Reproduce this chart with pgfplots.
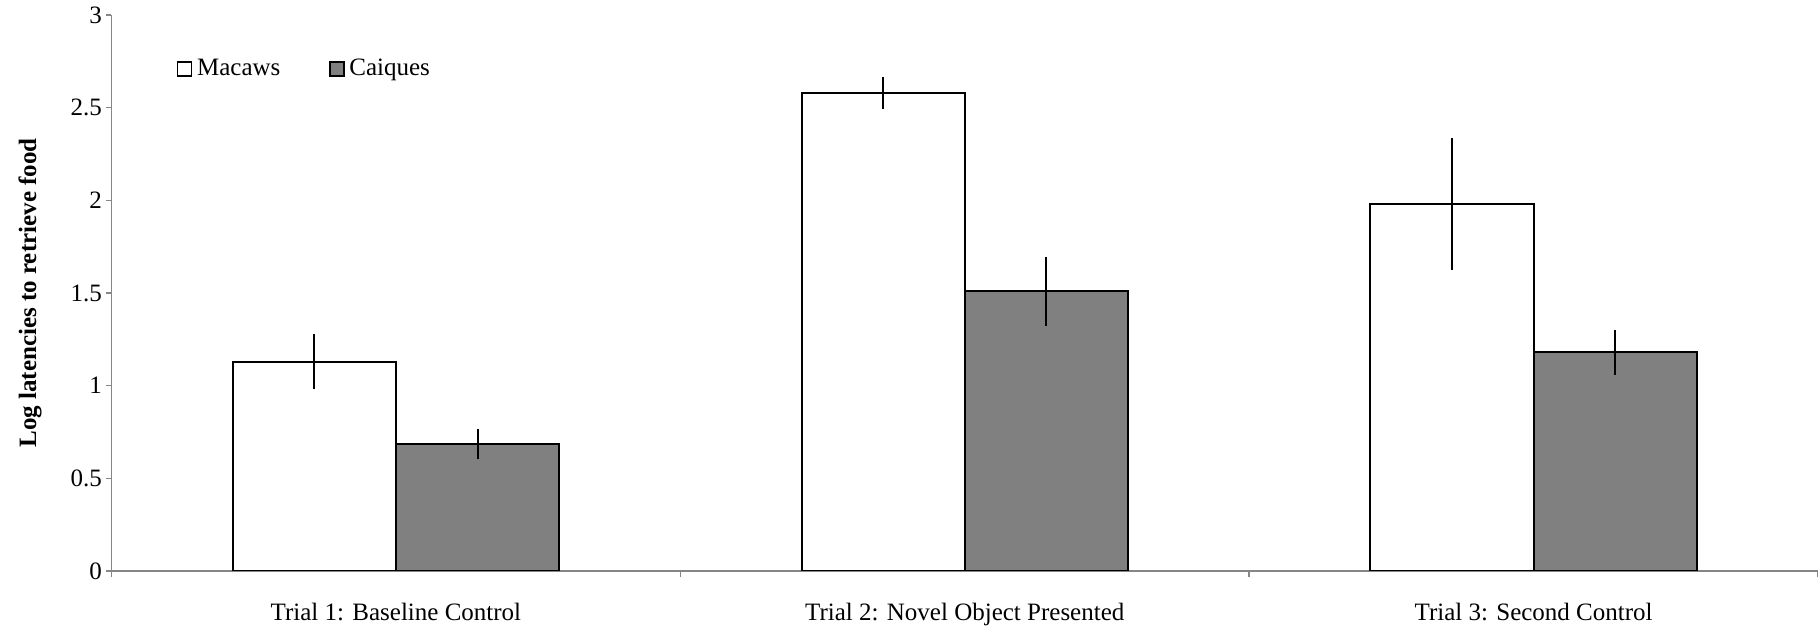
\documentclass[border=0pt]{standalone}
\usepackage{pgfplots}
\pgfplotsset{compat=1.18}
\usepackage{fontspec}
\setmainfont{Liberation Serif}
\definecolor{axisgray}{RGB}{134,134,134}
\definecolor{bargray}{RGB}{128,128,128}
\begin{document}
\begin{tikzpicture}
\path[use as bounding box] (-44.6pt,-22.8pt) rectangle (682.6pt,228.4pt);
\begin{axis}[
  at={(0,0)}, anchor=south west,
  width=682.6pt, height=222.4pt, scale only axis,
  ybar=0pt, bar width=0.287,
  xmin=-0.5, xmax=2.5, ymin=0, ymax=3,
  xtick={0,1,2},
  xticklabels={Trial 1: Baseline Control, Trial 2: Novel Object Presented, Trial 3: Second Control},
  minor xtick={-0.5,0.5,1.5,2.5},
  ytick={0,0.5,1,1.5,2,2.5,3},
  yticklabels={0,0.5,1,1.5,2,2.5,3},
  axis x line*=bottom, axis y line*=left,
  axis line style={-, draw=axisgray, line width=0.6pt},
  tick align=outside,
  major tick length=2.2pt,
  minor tick length=2.5pt,
  tick style={draw=axisgray, line width=0.6pt},
  major x tick style={draw=none},
  xticklabel style={anchor=north, yshift=-7.1pt, font=\normalsize},
  yticklabel style={font=\normalsize, xshift=1.9pt},
  /pgf/number format/assume math mode=true,
  ylabel={\textbf{Log latencies to retrieve food}},
  ylabel style={at={(axis description cs:0,0.5)}, anchor=center, yshift=32.6pt},
  legend columns=2,
  legend style={draw=none, fill=none, inner sep=0pt, at={(axis description cs:0.038,0.903)}, anchor=west,
    nodes={inner sep=1pt}, /tikz/every even column/.append style={column sep=18.5pt}},
  legend image code/.code={\draw[#1, line width=0.6pt] (0pt,-2.8pt) rectangle (5.6pt,2.8pt); \path (6.4pt,0pt);},
  error bars/y dir=both, error bars/y explicit,
  error bars/error mark=none,
  error bars/error bar style={line width=0.8pt, black},
]
\addplot[draw=black, fill=white, line width=0.8pt] coordinates {
  (0,1.13) +- (0,0.15)
  (1,2.58) +- (0,0.087)
  (2,1.98) +- (0,0.354)
};
\addplot[draw=black, fill=bargray, line width=0.8pt] coordinates {
  (0,0.685) +- (0,0.08)
  (1,1.51) +- (0,0.186)
  (2,1.18) +- (0,0.12)
};
\legend{Macaws, Caiques}
\end{axis}
\end{tikzpicture}
\end{document}
